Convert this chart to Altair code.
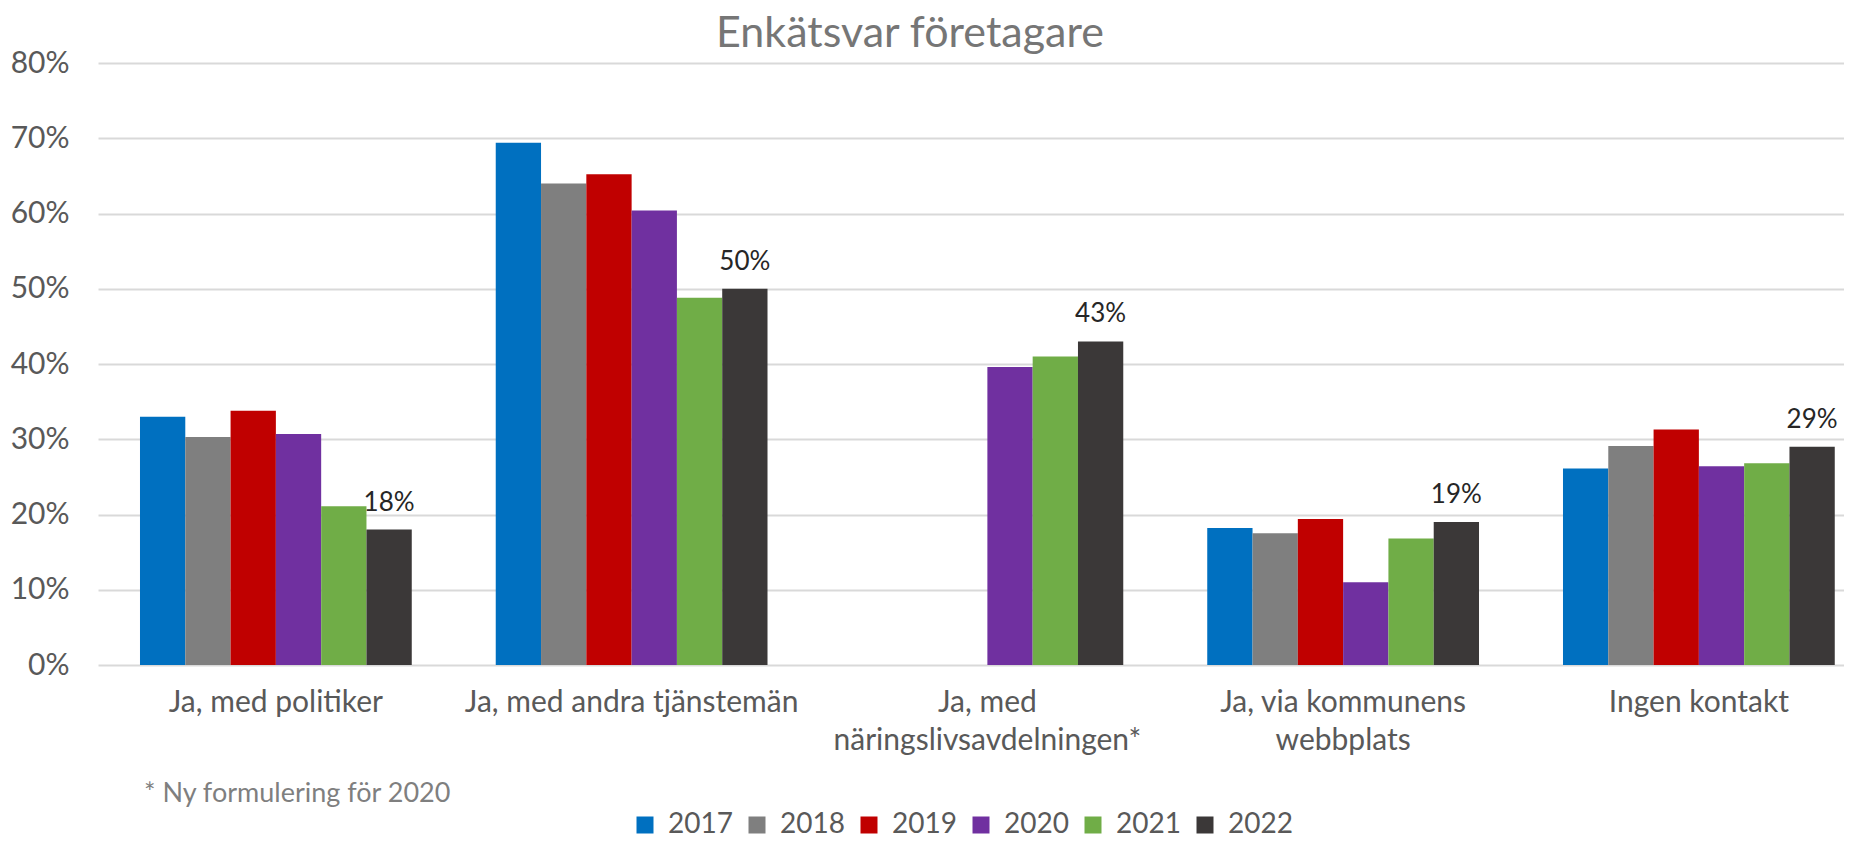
import altair as alt
import pandas as pd

categories = [
    "Ja, med politiker",
    "Ja, med andra tjänstemän",
    "Ja, med näringslivsavdelningen*",
    "Ja, via kommunens webbplats",
    "Ingen kontakt",
]
years = ["2017", "2018", "2019", "2020", "2021", "2022"]
colors = ["#0070C0", "#7F7F7F", "#C00000", "#7030A0", "#70AD47", "#3B3838"]

v2017 = [0.330, 0.694, None, 0.182, 0.261]
v2018 = [0.303, 0.640, None, 0.175, 0.291]
v2019 = [0.338, 0.652, None, 0.194, 0.313]
v2020 = [0.307, 0.604, 0.396, 0.110, 0.264]
v2021 = [0.211, 0.488, 0.410, 0.168, 0.268]
v2022 = [0.18, 0.50, 0.43, 0.19, 0.29]
series = [v2017, v2018, v2019, v2020, v2021, v2022]

title_text = "Enkätsvar företagare"
footnote = "* Ny formulering för 2020"
y_ticks = [0, 0.1, 0.2, 0.3, 0.4, 0.5, 0.6, 0.7, 0.8]

rows = []
for yr, vals in zip(years, series):
    for cat, v in zip(categories, vals):
        if v is not None:
            rows.append({"category": cat, "year": yr, "value": v})
df = pd.DataFrame(rows)

FONT = "Lato"

label_expr = (
    "datum.label == 'Ja, med näringslivsavdelningen*' ? ['Ja, med', 'näringslivsavdelningen*'] : "
    "datum.label == 'Ja, via kommunens webbplats' ? ['Ja, via kommunens', 'webbplats'] : datum.label"
)

x_enc = alt.X(
    "category:N",
    sort=categories,
    scale=alt.Scale(range=[0, 1778.75], paddingInner=0, paddingOuter=0),
    axis=alt.Axis(
        title=None, labelAngle=0, domain=False, ticks=False,
        labelFontSize=30, labelColor="#595959", labelFont=FONT,
        labelPadding=22, labelLineHeight=38, labelLimit=0,
        labelOverlap=False, labelExpr=label_expr,
    ),
)
xoff_enc = alt.XOffset(
    "year:N", sort=years, scale=alt.Scale(paddingInner=0, paddingOuter=0.927)
)
y_enc = alt.Y(
    "value:Q",
    scale=alt.Scale(domain=[0, 0.8], nice=False),
    axis=alt.Axis(
        title=None, format=".0%", values=y_ticks, grid=True,
        gridColor="#D9D9D9", gridWidth=2, domain=False, ticks=False,
        labelFontSize=30, labelColor="#595959", labelFont=FONT, labelPadding=29,
    ),
)

bars = alt.Chart(df).mark_bar().encode(
    x=x_enc,
    xOffset=xoff_enc,
    y=y_enc,
    color=alt.Color(
        "year:N",
        sort=years,
        scale=alt.Scale(domain=years, range=colors),
        legend=alt.Legend(
            orient="none", direction="horizontal", legendX=533, legendY=748,
            title=None, symbolType="square", symbolSize=289, symbolStrokeWidth=0,
            labelFontSize=28, labelColor="#595959", labelFont=FONT,
            labelBaseline="middle", columnPadding=10, labelOffset=9,
        ),
    ),
)

labels = alt.Chart(df).transform_filter(alt.datum.year == "2022").mark_text(
    dy=-27, fontSize=26, color="#262626", font=FONT, baseline="middle", align="center"
).encode(
    x=alt.X("category:N", sort=categories),
    xOffset=alt.XOffset("year:N", sort=years),
    y=alt.Y("value:Q"),
    text=alt.Text("value:Q", format=".0%"),
)

note = alt.Chart(pd.DataFrame({"note": [footnote]})).mark_text(
    align="left", baseline="middle", fontSize=27, color="#7F7F7F", font=FONT
).encode(
    x=alt.value(46), y=alt.value(731), text="note:N"
)

title = alt.Chart(pd.DataFrame({"t": [title_text]})).mark_text(
    align="center", baseline="alphabetic", fontSize=43, color="#767676", font=FONT
).encode(
    x=alt.value(812), y=alt.value(-16), text="t:N"
)

chart = alt.layer(bars, labels, note, title).properties(
    width=1746,
    height=602,
    autosize=alt.AutoSizeParams(type="none"),
    padding={"left": 90, "top": 55, "right": 0, "bottom": 173},
).configure_view(stroke=None)

chart.save("out.html", embed_options={"renderer": "svg", "actions": False})
